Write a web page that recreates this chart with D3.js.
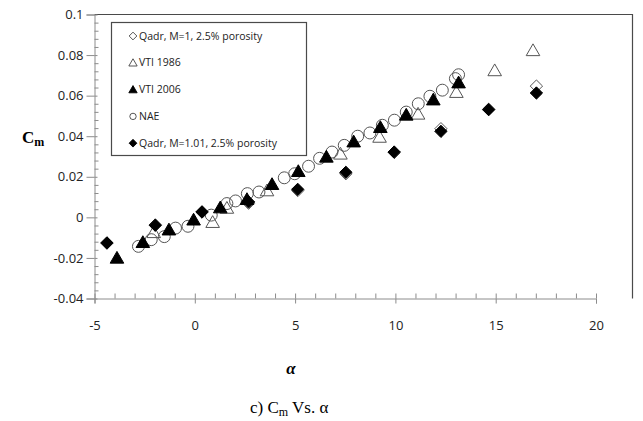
<!DOCTYPE html>
<html>
<head>
<meta charset="utf-8">
<script src="https://cdn.jsdelivr.net/npm/d3@7"></script>
<style>
	body { margin: 0; background: #fff; }
	svg { display: block; font-family: "Open Sans", sans-serif; }
</style>
</head>
<body>
<div id="chart"></div>
<script>
/* global d3 */

// Series data (alpha in degrees, Cm)
var qadrM1Alpha = [-4.38, -1.97, 0.36, 2.68, 5.13, 7.53, 9.94, 12.27, 14.65, 17.03];
var qadrM1Cm = [-0.0125, -0.0037, 0.0028, 0.0070, 0.0132, 0.0215, 0.0320, 0.0437, 0.0533, 0.0647];

var vti1986Alpha = [-2.05, 0.89, 1.6, 3.6, 7.26, 9.21, 11.13, 13.04, 14.95, 16.86];
var vti1986Cm = [-0.0073, -0.0023, 0.0047, 0.0133, 0.0314, 0.0397, 0.0511, 0.0618, 0.0725, 0.0824];

var vti2006Alpha = [-3.88, -2.59, -1.29, -0.06, 1.27, 2.6, 3.85, 5.16, 6.56, 7.92, 9.25, 10.54, 11.89, 13.15];
var vti2006Cm = [-0.0199, -0.0122, -0.0060, -0.0011, 0.0049, 0.0090, 0.0164, 0.0228, 0.0299, 0.0374, 0.0445, 0.0506, 0.0581, 0.0665];

var naeAlpha = [-2.81, -2.17, -1.52, -0.96, -0.34, 0.82, 1.6, 2.03, 2.62, 3.2, 4.46, 4.98, 5.67, 6.22, 6.84,
	7.45, 8.12, 8.73, 9.35, 9.95, 10.54, 11.14, 11.72, 12.34, 12.99, 13.15];
var naeCm = [-0.0143, -0.0110, -0.0095, -0.0053, -0.0044, 0.0011, 0.0068, 0.0081, 0.0117, 0.0125, 0.0195, 0.0215,
	0.0252, 0.0291, 0.0322, 0.0355, 0.0400, 0.0416, 0.0454, 0.0479, 0.0519, 0.0560, 0.0597, 0.0627, 0.0684, 0.0703];

var qadrM101Alpha = [-4.38, -1.97, 0.36, 2.68, 5.13, 7.53, 9.94, 12.27, 14.65, 17.03];
var qadrM101Cm = [-0.0127, -0.0039, 0.0026, 0.0076, 0.0138, 0.0222, 0.0322, 0.0424, 0.0531, 0.0613];

// Axis ticks
var xTicks = [-5, 0, 5, 10, 15, 20];
var yTicks = [-0.04, -0.02, 0, 0.02, 0.04, 0.06, 0.08, 0.1];

var legendNames = [
	'Qadr, M=1, 2.5% porosity',
	'VTI 1986',
	'VTI 2006',
	'NAE',
	'Qadr, M=1.01, 2.5% porosity'
];

(function() {

	var width = 643,
		height = 421,
		plot = { left: 94.5, right: 596, top: 14.5, bottom: 298.5 };

	// Excel-like diamond: a square turned 45 degrees
	var squareDiamond = {
		draw: function(context, size) {
			var r = Math.sqrt(size / 2);
			context.moveTo(0, -r);
			context.lineTo(r, 0);
			context.lineTo(0, r);
			context.lineTo(-r, 0);
			context.closePath();
		}
	};

	// Series definitions (drawing order)
	var series = [
		{ name: legendNames[3], alpha: naeAlpha, cm: naeCm, shape: d3.symbolCircle, size: 112, fill: 'none' },
		{ name: legendNames[0], alpha: qadrM1Alpha, cm: qadrM1Cm, shape: squareDiamond, size: 76, fill: 'none' },
		{ name: legendNames[1], alpha: vti1986Alpha, cm: vti1986Cm, shape: d3.symbolTriangle, size: 80, fill: 'none' },
		{ name: legendNames[2], alpha: vti2006Alpha, cm: vti2006Cm, shape: d3.symbolTriangle, size: 80, fill: '#000' },
		{ name: legendNames[4], alpha: qadrM101Alpha, cm: qadrM101Cm, shape: squareDiamond, size: 76, fill: '#000' }
	];

	var svg = d3.select('#chart').append('svg')
		.attr('width', width)
		.attr('height', height);

	var x = d3.scaleLinear().domain([-5, 20]).range([plot.left, plot.right]),
		y = d3.scaleLinear().domain([-0.04, 0.1]).range([plot.bottom, plot.top]);

	var minorX = d3.range(-5, 20.5, 1).filter(function(d) { return d % 5 !== 0; }),
		minorY = d3.range(-40, 101, 4).map(function(d) { return d / 1000; })
			.filter(function(d) { return Math.round(d * 1000) % 20 !== 0; });

	var axisColor = '#8c8c8c',
		plainFormat = function(d) { return String(+d.toFixed(2)); };

	// Frame (top and right)
	svg.append('path')
		.attr('d', 'M' + plot.left + ',' + plot.top + 'H632.5V' + plot.bottom)
		.attr('fill', 'none')
		.attr('stroke', '#4a4a4a')
		.attr('stroke-width', 1.2);

	// y-axis
	var gY = svg.append('g').attr('transform', 'translate(' + plot.left + ',0)');
	gY.call(d3.axisLeft(y).tickValues(yTicks).tickSize(8).tickPadding(3).tickFormat(plainFormat));
	gY.append('g').call(d3.axisRight(y).tickValues(yTicks).tickSize(3).tickFormat(''));
	gY.append('g').call(d3.axisRight(y).tickValues(minorY).tickSize(4).tickFormat(''));

	// x-axis
	var gX = svg.append('g').attr('transform', 'translate(0,' + plot.bottom + ')');
	gX.call(d3.axisBottom(x).tickValues(xTicks).tickSize(5).tickPadding(17).tickFormat(plainFormat));
	gX.append('g').call(d3.axisTop(x).tickValues(xTicks).tickSize(5).tickFormat(''));
	gX.append('g').call(d3.axisTop(x).tickValues(minorX).tickSize(5).tickFormat(''));

	svg.selectAll('.domain').attr('stroke', axisColor);
	svg.selectAll('.tick line').attr('stroke', axisColor);
	svg.selectAll('g > g .domain').remove();
	svg.selectAll('.tick text')
		.attr('fill', '#222')
		.style('font-size', '13px')
		.style('font-family', '"Open Sans", sans-serif');

	// Points
	series.forEach(function(s) {
		var sym = d3.symbol().type(s.shape).size(s.size);
		svg.append('g')
			.selectAll('path')
			.data(s.alpha.map(function(a, i) { return [a, s.cm[i]]; }))
			.enter()
			.append('path')
			.attr('d', sym)
			.attr('transform', function(d) {
				var dy = s.shape === d3.symbolTriangle ? 1.5 : 0;
				return 'translate(' + x(d[0]) + ',' + (y(d[1]) + dy) + ')';
			})
			.attr('fill', s.fill)
			.attr('stroke', s.fill === 'none' ? '#555' : '#000')
			.attr('stroke-width', 1);
	});

	// Legend
	var legend = svg.append('g');
	legend.append('rect')
		.attr('x', 111.5).attr('y', 22.5)
		.attr('width', 195).attr('height', 133)
		.attr('fill', '#fff')
		.attr('stroke', '#4a4a4a')
		.attr('stroke-width', 1.2);

	var legendOrder = [1, 2, 3, 0, 4];
	legendOrder.forEach(function(si, i) {
		var s = series[si],
			cy = 36 + i * 26.8,
			sym = d3.symbol().type(s.shape).size(s.shape === d3.symbolCircle ? 32 : 30);
		legend.append('path')
			.attr('d', sym)
			.attr('transform', 'translate(133,' + (cy + (s.shape === d3.symbolTriangle ? 0.8 : 0)) + ')')
			.attr('fill', s.fill)
			.attr('stroke', s.fill === 'none' ? '#444' : '#000')
			.attr('stroke-width', 0.9);
		legend.append('text')
			.attr('x', 139)
			.attr('y', cy)
			.attr('dy', '0.35em')
			.attr('fill', '#222')
			.style('font-size', '10.5px')
			.text(s.name);
	});

	// Axis titles
	var cm = svg.append('text')
		.attr('x', 22).attr('y', 143)
		.style('font-family', '"Liberation Serif", serif')
		.style('font-weight', 'bold')
		.style('font-size', '17px')
		.attr('fill', '#000');
	cm.append('tspan').text('C');
	cm.append('tspan').attr('dy', 3).style('font-size', '12px').text('m');

	svg.append('text')
		.attr('x', 291).attr('y', 374)
		.attr('text-anchor', 'middle')
		.style('font-family', '"Liberation Serif", serif')
		.style('font-weight', 'bold')
		.style('font-style', 'italic')
		.style('font-size', '17px')
		.attr('fill', '#000')
		.text('α');

	// Caption
	var cap = svg.append('text')
		.attr('x', 250).attr('y', 413)
		.style('font-family', '"Liberation Serif", serif')
		.style('font-size', '17px')
		.attr('fill', '#000');
	cap.append('tspan').text('c) C');
	cap.append('tspan').attr('dy', 3).style('font-size', '12px').text('m');
	cap.append('tspan').attr('dy', -3).text(' Vs. α');

})();
</script>
</body>
</html>
